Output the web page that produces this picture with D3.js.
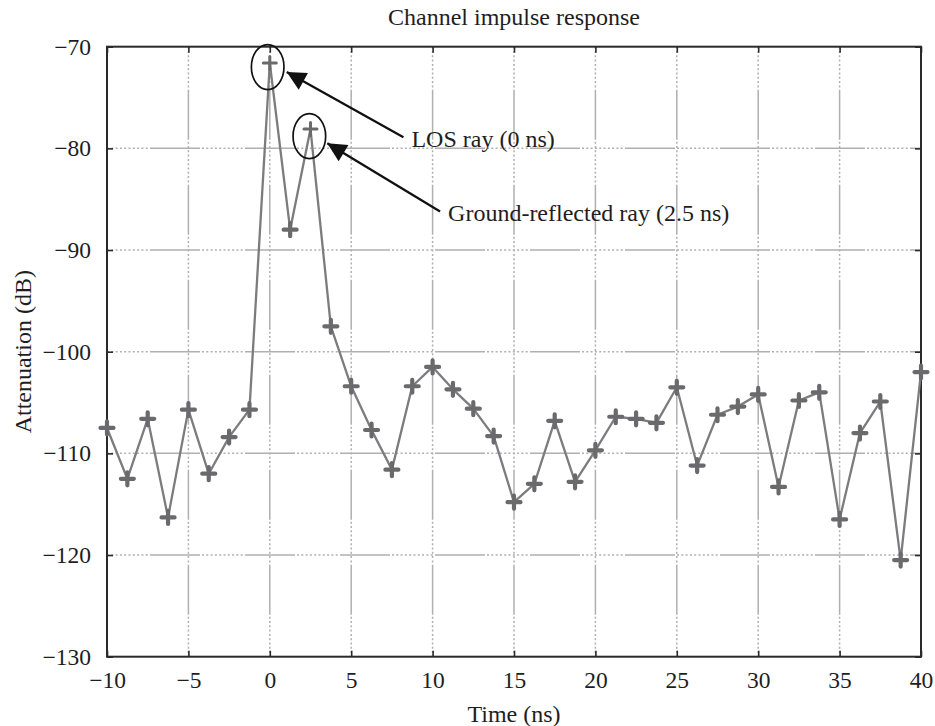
<!DOCTYPE html>
<html>
<head>
<meta charset="utf-8">
<script src="https://cdn.jsdelivr.net/npm/d3@7"></script>
<style>
  body { margin: 0; background: #fff; }
  text { font-family: "Liberation Serif", "Times New Roman", serif; fill: #1e1e1e; }
</style>
</head>
<body>
<svg id="chart" width="935" height="726"></svg>
<script>
// Sample instants of the channel impulse response (ns)
const timeNs = [
  -10, -8.75, -7.5, -6.25, -5, -3.75, -2.5, -1.25,
  0, 1.25, 2.5, 3.75, 5, 6.25, 7.5, 8.75,
  10, 11.25, 12.5, 13.75, 15, 16.25, 17.5, 18.75,
  20, 21.25, 22.5, 23.75, 25, 26.25, 27.5, 28.75,
  30, 31.25, 32.5, 33.75, 35, 36.25, 37.5, 38.75, 40
];

// Attenuation at each instant (dB)
const attenuationDb = [
  -107.5, -112.5, -106.6, -116.3, -105.7, -112.0, -108.4, -105.7,
  -71.6, -88.0, -78.1, -97.5, -103.4, -107.7, -111.6, -103.4,
  -101.5, -103.7, -105.6, -108.3, -114.8, -113.0, -106.8, -112.8,
  -109.7, -106.4, -106.6, -107.0, -103.5, -111.2, -106.2, -105.4,
  -104.2, -113.3, -104.8, -104.0, -116.5, -108.0, -104.9, -120.5, -102.0
];

const xTicks = [-10, -5, 0, 5, 10, 15, 20, 25, 30, 35, 40];
const yTicks = [-70, -80, -90, -100, -110, -120, -130];

// Callouts: circled peak, arrow tip, label anchor (all in data units)
const calloutLabels = ["LOS ray (0 ns)", "Ground-reflected ray (2.5 ns)"];
const calloutPeakT  = [-0.13, 2.43];
const calloutPeakDb = [-72.0, -78.8];
const calloutTipT   = [1.04, 3.53];
const calloutTipDb  = [-72.5, -79.5];
const calloutTextT  = [8.7, 10.95];
const calloutTextDb = [-79.0, -86.3];

const svg = d3.select("#chart");
const m = { left: 107, right: 921, top: 46.7, bottom: 656.7 };

const x = d3.scaleLinear().domain([-10, 40]).range([m.left, m.right]);
const y = d3.scaleLinear().domain([-130, -70]).range([m.bottom, m.top]);

// Grid: alternating dotted and solid runs
const gridDash = Array(10).fill("2,2.3").join(",") + ",50,2";
const grid = svg.append("g").attr("stroke", "#b0b0b0").attr("stroke-width", 1.5)
  .attr("stroke-dasharray", gridDash).attr("fill", "none");
grid.selectAll("line.v").data(xTicks.slice(1, -1)).join("line")
  .attr("x1", d => x(d)).attr("x2", d => x(d))
  .attr("y1", m.top).attr("y2", m.bottom);
grid.selectAll("line.h").data(yTicks.slice(1, -1)).join("line")
  .attr("x1", m.left).attr("x2", m.right)
  .attr("y1", d => y(d)).attr("y2", d => y(d));

// Axes (ticks pointing inwards, mirrored on the opposite sides)
const fmt = d3.format("d");
const axisFont = g => g.selectAll("text")
  .style("font-family", '"Liberation Serif", "Times New Roman", serif')
  .style("font-size", "23.5px").attr("fill", "#1e1e1e");
const styleAxis = g => {
  g.select(".domain").remove();
  g.selectAll(".tick line").attr("stroke", "#2a2a2a").attr("stroke-width", 1.6);
};

svg.append("g").attr("transform", `translate(0,${m.bottom})`)
  .call(d3.axisBottom(x).tickValues(xTicks).tickFormat(fmt).tickSizeInner(-6).tickPadding(15))
  .call(styleAxis).call(axisFont);
svg.append("g").attr("transform", `translate(0,${m.top})`)
  .call(d3.axisTop(x).tickValues(xTicks).tickFormat("").tickSizeInner(-6))
  .call(styleAxis);
svg.append("g").attr("transform", `translate(${m.left},0)`)
  .call(d3.axisLeft(y).tickValues(yTicks).tickFormat(fmt).tickSizeInner(-6).tickPadding(16))
  .call(styleAxis).call(axisFont);
svg.append("g").attr("transform", `translate(${m.right},0)`)
  .call(d3.axisRight(y).tickValues(yTicks).tickFormat("").tickSizeInner(-6))
  .call(styleAxis);

svg.append("rect")
  .attr("x", m.left).attr("y", m.top)
  .attr("width", m.right - m.left).attr("height", m.bottom - m.top)
  .attr("fill", "none").attr("stroke", "#2a2a2a").attr("stroke-width", 2);

// Response curve
const pts = timeNs.map((t, i) => [t, attenuationDb[i]]);
svg.append("path")
  .datum(pts)
  .attr("fill", "none").attr("stroke", "#7c7c7f").attr("stroke-width", 2.3)
  .attr("stroke-linejoin", "round")
  .attr("d", d3.line().x(d => x(d[0])).y(d => y(d[1])));

// Plus markers
svg.append("g").selectAll("path").data(pts).join("path")
  .attr("transform", d => `translate(${x(d[0])},${y(d[1])})`)
  .attr("d", "M-6.5,0H6.5M0,-6.5V6.5")
  .attr("stroke", "#6a6a6d").attr("stroke-width", (d, i) => (i === 8 || i === 10) ? 3 : 4.2)
  .attr("stroke-linecap", "round");

// Callouts
const defs = svg.append("defs");
defs.append("marker").attr("id", "head")
  .attr("viewBox", "0 0 10 10").attr("refX", 10).attr("refY", 5)
  .attr("markerUnits", "userSpaceOnUse")
  .attr("markerWidth", 24).attr("markerHeight", 19).attr("orient", "auto")
  .append("path").attr("d", "M0,0L10,5L0,10Z").attr("fill", "#111");

const ann = svg.append("g");
calloutLabels.forEach((label, i) => {
  ann.append("ellipse")
    .attr("cx", x(calloutPeakT[i])).attr("cy", y(calloutPeakDb[i]))
    .attr("rx", 16.3).attr("ry", 22.5)
    .attr("fill", "none").attr("stroke", "#111").attr("stroke-width", 1.7);
  ann.append("line")
    .attr("x1", x(calloutTextT[i]) - 8).attr("y1", y(calloutTextDb[i]) - 1)
    .attr("x2", x(calloutTipT[i])).attr("y2", y(calloutTipDb[i]))
    .attr("stroke", "#111").attr("stroke-width", 2.3)
    .attr("marker-end", "url(#head)");
  ann.append("text")
    .attr("x", x(calloutTextT[i])).attr("y", y(calloutTextDb[i]))
    .attr("dy", "0.35em").style("font-size", "24px")
    .text(label);
});

// Titles
svg.append("text")
  .attr("x", (m.left + m.right) / 2).attr("y", 25)
  .attr("text-anchor", "middle").style("font-size", "24px")
  .text("Channel impulse response");
svg.append("text")
  .attr("x", (m.left + m.right) / 2).attr("y", 722)
  .attr("text-anchor", "middle").style("font-size", "24px")
  .text("Time (ns)");
svg.append("text")
  .attr("transform", `translate(31,${(m.top + m.bottom) / 2}) rotate(-90)`)
  .attr("text-anchor", "middle").style("font-size", "24px")
  .text("Attenuation (dB)");
</script>
</body>
</html>
